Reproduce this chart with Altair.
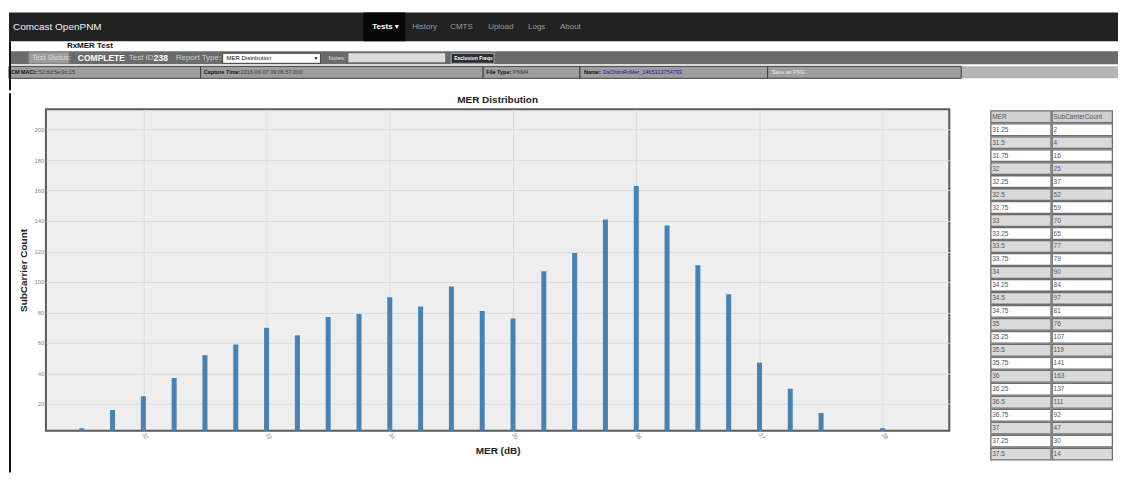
import altair as alt
import pandas as pd

# ---------------- data ----------------
MER = [31.25, 31.5, 31.75, 32.0, 32.25, 32.5, 32.75, 33.0, 33.25, 33.5, 33.75, 34.0,
       34.25, 34.5, 34.75, 35.0, 35.25, 35.5, 35.75, 36.0, 36.25, 36.5, 36.75, 37.0,
       37.25, 37.5, 37.75, 38.0]
COUNT = [2, 4, 16, 25, 37, 52, 59, 70, 65, 77, 79, 90, 84, 97, 81, 76, 107, 119, 141,
         163, 137, 111, 92, 47, 30, 14, 1, 4]
X_TICKS = [32, 33, 34, 35, 36, 37, 38]
Y_TICKS = [20, 40, 60, 80, 100, 120, 140, 160, 180, 200]
TABLE_HEADER = ["MER", "SubCarrierCount"]
TABLE_ROWS = 26

BRAND = "Comcast OpenPNM"
NAV_ACTIVE = "Tests \u25be"
NAV_ITEMS = ["History", "CMTS", "Upload", "Logs", "About"]
PAGE_TITLE = "RxMER Test"
STATUS_LABEL = "Test Status:"
STATUS_VALUE = "COMPLETE"
TESTID_LABEL = "Test ID:"
TESTID_VALUE = "238"
REPORT_LABEL = "Report Type:"
REPORT_VALUE = "MER Distribution"
NOTES_LABEL = "Notes:"
BUTTON_LABEL = "Exclusion Freqs"
INFO_LABELS = ["CM MAC:", "Capture Time:", "File Type:", "Name:"]
INFO_VALUES = ["fc:52:8d:5e:9c:15", "2016-06-07 09:06:57.000", "PNM4", "DsOfdmRxMer_1465313754793"]
SAVE_LABEL = "Save as PNG"

FONT = "Liberation Sans, Arial, DejaVu Sans"
SHIFT = 37  # header drawn relative to the plot's left edge
HEADER_H = 82

# ---------------- header (page chrome) ----------------
rect_rows = [
    dict(x=0, x2=1111, y=4, y2=33, fill="#222222", stroke="transparent"),
    dict(x=355, x2=397, y=4, y2=33, fill="#080808", stroke="transparent"),
    dict(x=0, x2=1111, y=43, y2=56, fill="#6b6b6b", stroke="transparent"),
    dict(x=20, x2=60, y=44, y2=55, fill="#9c9c9c", stroke="#8a8a8a"),
    dict(x=214, x2=312, y=45, y2=55, fill="#ffffff", stroke="#444444"),
    dict(x=340, x2=437, y=45, y2=54, fill="#dcdcdc", stroke="transparent"),
    dict(x=443, x2=486, y=45, y2=55, fill="#2e2e2e", stroke="#aaaaaa"),
    dict(x=0, x2=1111, y=58, y2=70, fill="#b5b5b5", stroke="transparent"),
    dict(x=0, x2=192, y=58, y2=70, fill="#9e9e9e", stroke="#3c3c3c"),
    dict(x=192, x2=475, y=58, y2=70, fill="#9e9e9e", stroke="#3c3c3c"),
    dict(x=475, x2=572, y=58, y2=70, fill="#9e9e9e", stroke="#3c3c3c"),
    dict(x=572, x2=760, y=58, y2=70, fill="#9e9e9e", stroke="#3c3c3c"),
    dict(x=760, x2=954, y=58, y2=70, fill="#9e9e9e", stroke="#3c3c3c"),
    dict(x=0, x2=2, y=33, y2=HEADER_H, fill="#111111", stroke="transparent"),
]
rects = pd.DataFrame(rect_rows)
rects["x"] = rects["x"] - SHIFT
rects["x2"] = rects["x2"] - SHIFT

nav_x = [404, 442, 480, 520, 552]
texts_normal = [dict(x=4, y=19, t=BRAND, color="#f2f2f2", size=10)]
texts_normal += [dict(x=xx, y=19, t=s, color="#9d9d9d", size=8) for xx, s in zip(nav_x, NAV_ITEMS)]
texts_normal += [
    dict(x=23, y=49.5, t=STATUS_LABEL, color="#dddddd", size=7.5),
    dict(x=120, y=49.5, t=TESTID_LABEL, color="#cccccc", size=8),
    dict(x=167, y=49.5, t=REPORT_LABEL, color="#cccccc", size=8),
    dict(x=218, y=50, t=REPORT_VALUE, color="#111111", size=6),
    dict(x=305, y=50, t="\u25bc", color="#111111", size=5),
    dict(x=320, y=49.5, t=NOTES_LABEL, color="#dddddd", size=6),
]
info_val_x = [24, 232, 505, 595]
info_val_col = ["#333333", "#333333", "#333333", "#1a0dab"]
texts_normal += [dict(x=xx, y=64, t=s, color=c, size=5.5)
                 for xx, s, c in zip(info_val_x, INFO_VALUES, info_val_col)]
texts_normal += [dict(x=764, y=64, t=SAVE_LABEL, color="#eeeeee", size=5.5)]

texts_bold = [
    dict(x=364, y=19, t=NAV_ACTIVE, color="#ffffff", size=8),
    dict(x=58, y=38, t=PAGE_TITLE, color="#111111", size=8),
    dict(x=69, y=49.5, t=STATUS_VALUE, color="#ffffff", size=8.5),
    dict(x=145, y=49.5, t=TESTID_VALUE, color="#ffffff", size=8.5),
    dict(x=446, y=50, t=BUTTON_LABEL, color="#ffffff", size=5),
]
info_lab_x = [2, 195, 478, 576]
texts_bold += [dict(x=xx, y=64, t=s, color="#111111", size=5.5) for xx, s in zip(info_lab_x, INFO_LABELS)]

rect_layer = alt.Chart(rects).mark_rect(strokeWidth=1).encode(
    x=alt.X("x:Q", scale=None, axis=None), x2="x2:Q",
    y=alt.Y("y:Q", scale=None, axis=None), y2="y2:Q",
    fill=alt.Fill("fill:N", scale=None, legend=None),
    stroke=alt.Stroke("stroke:N", scale=None, legend=None),
)


def text_layer(rows, weight):
    d = pd.DataFrame(rows)
    d["x"] = d["x"] - SHIFT
    return alt.Chart(d).mark_text(
        align="left", baseline="middle", font=FONT, fontWeight=weight
    ).encode(
        x=alt.X("x:Q", scale=None, axis=None),
        y=alt.Y("y:Q", scale=None, axis=None),
        text="t:N",
        color=alt.Color("color:N", scale=None, legend=None),
        size=alt.Size("size:Q", scale=None, legend=None),
    )


header = alt.layer(rect_layer, text_layer(texts_normal, "normal"), text_layer(texts_bold, "bold")).properties(
    width=1111 - SHIFT, height=HEADER_H, view=alt.ViewBackground(stroke=None)
)

# ---------------- main chart ----------------
df = pd.DataFrame({"MER": MER, "SubCarrierCount": COUNT})

bars = alt.Chart(df).mark_bar(size=5, color="#4682b4", clip=True).encode(
    x=alt.X(
        "MER:Q",
        scale=alt.Scale(domain=[31.25, 38.5], nice=False, zero=False),
        axis=alt.Axis(
            values=X_TICKS, format="d", labelAngle=60, labelFontSize=6, labelColor="#888888",
            labelPadding=2, labelOverlap=False, labelFont=FONT, ticks=False, tickSize=0,
            domain=False, grid=True, gridColor="#d9d9d9", gridWidth=1,
            title="MER (dB)", titleFontSize=10, titleFontWeight="bold", titleColor="#222222",
            titleFont=FONT, titleY=15,
        ),
    ),
    y=alt.Y(
        "SubCarrierCount:Q",
        scale=alt.Scale(domain=[2.5, 213.3], nice=False, zero=False),
        axis=alt.Axis(
            values=Y_TICKS, labelFontSize=6, labelColor="#888888", labelPadding=2,
            labelFont=FONT, ticks=False, tickSize=0, domain=False, grid=True,
            gridColor="#d9d9d9", gridWidth=1,
            title="SubCarrier Count", titleFontSize=10, titleFontWeight="bold",
            titleColor="#222222", titleFont=FONT, titleX=-17,
        ),
    ),
)

border = alt.Chart(pd.DataFrame({"k": [0]})).mark_rule(color="#111111", strokeWidth=2).encode(
    x=alt.value(-36), y=alt.value(-16), y2=alt.value(364)
)

main = alt.layer(bars, border).properties(
    width=905, height=322,
    title=alt.TitleParams("MER Distribution", fontSize=10, fontWeight="bold", color="#222222",
                          font=FONT, offset=-20.5, baseline="alphabetic", anchor="middle", frame="group"),
    view=alt.ViewBackground(fill="#eeeeee", stroke="#5a5a5a", strokeWidth=2),
)

# ---------------- table ----------------
cells = []
for c, h in enumerate(TABLE_HEADER):
    cells.append(dict(r=0, c=c, label=h, fill="#cfcfcf"))
for i in range(TABLE_ROWS):
    fill = "#ffffff" if i % 2 == 0 else "#dadada"
    cells.append(dict(r=i + 1, c=0, label=f"{MER[i]:g}", fill=fill))
    cells.append(dict(r=i + 1, c=1, label=str(COUNT[i]), fill=fill))
cells = pd.DataFrame(cells)

ROW_PX = 13.0
TABLE_H = 356
xs = alt.Scale(domain=[0, 2], nice=False, zero=False)
ys = alt.Scale(domain=[-1 / ROW_PX, (TABLE_H - 1) / ROW_PX], nice=False, zero=False, reverse=True)

tbase = alt.Chart(cells).transform_calculate(
    xa="datum.c + 0.01", xb="datum.c + 0.99", ya="datum.r + 0.05", yb="datum.r + 0.95", ym="datum.r + 0.5"
)
cell_rects = tbase.mark_rect(stroke="#6e6e6e", strokeWidth=1.3).encode(
    x=alt.X("xa:Q", scale=xs, axis=None), x2="xb:Q",
    y=alt.Y("ya:Q", scale=ys, axis=None), y2="yb:Q",
    fill=alt.Fill("fill:N", scale=None, legend=None),
)
cell_text = tbase.mark_text(align="left", baseline="middle", dx=2, fontSize=6.5, color="#555555", font=FONT).encode(
    x=alt.X("c:Q", scale=xs, axis=None),
    y=alt.Y("ym:Q", scale=ys, axis=None),
    text="label:N",
)
table = alt.layer(cell_rects, cell_text).properties(
    width=123, height=TABLE_H, view=alt.ViewBackground(stroke=None)
)

row = alt.hconcat(main, table, spacing=41, bounds="flush")
chart = alt.vconcat(header, row, spacing=0).properties(padding=0).configure(font=FONT)

chart.save("out.html", embed_options={"renderer": "svg", "actions": False})
